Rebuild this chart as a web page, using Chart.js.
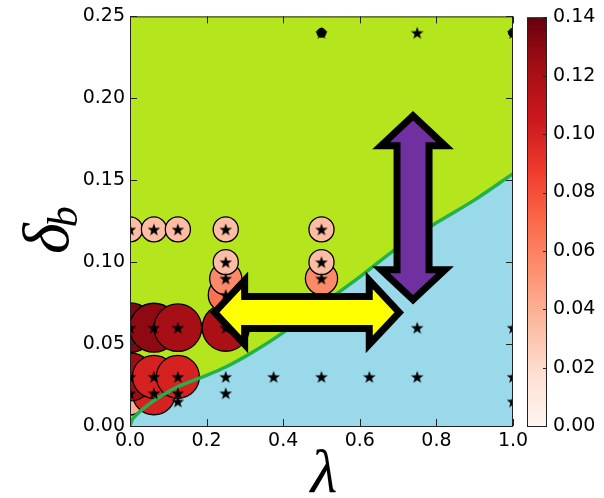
<!DOCTYPE html>
<html>
<head>
<meta charset="utf-8">
<script src="https://cdn.jsdelivr.net/npm/chart.js@4.4.0/dist/chart.umd.min.js"></script>
<style>
  html, body { margin: 0; padding: 0; background: #fff; }
  #wrap { position: relative; width: 604px; height: 498px; }
  canvas { position: absolute; left: 0; top: 0; }
</style>
</head>
<body>
<div id="wrap">
  <canvas id="main" width="604" height="498"></canvas>
  <canvas id="cbar" width="604" height="498"></canvas>
</div>
<script>
// tick labels
const xTicks = [0, 0.2, 0.4, 0.6, 0.8, 1.0];
const yTicks = [0, 0.05, 0.10, 0.15, 0.20, 0.25];
const cbTicks = [0, 0.02, 0.04, 0.06, 0.08, 0.10, 0.12, 0.14];

// bubbles (ordered by y, then x, as they stack)
const bubbleX   = [0,    0.0625, 0,     0.0625, 0.125, 0,     0.0625, 0.125, 0.25, 0.25,  0.25,  0.5,   0.25,  0.5,   0,     0.0625, 0.125, 0.25,  0.5];
const bubbleY   = [0.015, 0.02,  0.03,  0.03,   0.03,  0.06,  0.06,   0.06,  0.06, 0.08,  0.09,  0.09,  0.10,  0.10,  0.12,  0.12,   0.12,  0.12,  0.12];
const bubbleVal = [0.04, 0.10,   0.125, 0.10,   0.10,  0.133, 0.129,  0.122, 0.12, 0.066, 0.056, 0.056, 0.034, 0.034, 0.034, 0.034,  0.034, 0.034, 0.034];

// sampled points (stars)
const starX = [0.5, 0.75, 1.0,
               0, 0.0625, 0.125, 0.25, 0.5,
               0.25, 0.5,
               0.25, 0.5,
               0.25,
               0, 0.0625, 0.125, 0.25, 0.75, 1.0,
               0, 0.0625, 0.125, 0.25, 0.375, 0.5, 0.625, 0.75, 1.0,
               0, 0.0625, 0.125, 0.25,
               0.125, 1.0];
const starY = [0.24, 0.24, 0.24,
               0.12, 0.12, 0.12, 0.12, 0.12,
               0.10, 0.10,
               0.09, 0.09,
               0.08,
               0.06, 0.06, 0.06, 0.06, 0.06, 0.06,
               0.03, 0.03, 0.03, 0.03, 0.03, 0.03, 0.03, 0.03, 0.03,
               0.02, 0.02, 0.02, 0.02,
               0.015, 0.015];

// black dots
const dotX = [0.5, 1.0];
const dotY = [0.24, 0.24];

// boundary between the two regions
const boundX = [0, 0.005, 0.02, 0.04, 0.0625, 0.09, 0.125, 0.19, 0.25, 0.32, 0.4, 0.5, 0.6, 0.7, 0.8, 0.9, 1.0];
const boundY = [0, 0.0035, 0.0075, 0.0115, 0.0155, 0.0195, 0.024, 0.030, 0.036, 0.045, 0.057, 0.074, 0.091, 0.109, 0.124, 0.138, 0.154];

// arrows (tips in data units)
const hArrowX = [0.221, 0.703];
const hArrowY = 0.0693;
const vArrowX = 0.739;
const vArrowY = [0.0771, 0.1894];

const FONT = '"DejaVu Sans", sans-serif';
const redsStops = ['#fff5f0', '#fee0d2', '#fcbba1', '#fc9272', '#fb6a4a', '#ef3b2c', '#cb181d', '#a50f15', '#67000d'];
const VMAX = 0.14;

function hexToRgb(h) {
  return [parseInt(h.slice(1, 3), 16), parseInt(h.slice(3, 5), 16), parseInt(h.slice(5, 7), 16)];
}
function reds(v) {
  let t = Math.max(0, Math.min(1, v / VMAX)) * (redsStops.length - 1);
  let i = Math.min(Math.floor(t), redsStops.length - 2);
  let f = t - i;
  const a = hexToRgb(redsStops[i]), b = hexToRgb(redsStops[i + 1]);
  const c = a.map((x, k) => Math.round(x + (b[k] - x) * f));
  return 'rgb(' + c.join(',') + ')';
}

// filled five point star marker
const starImg = document.createElement('canvas');
starImg.width = 14; starImg.height = 14;
(function () {
  const c = starImg.getContext('2d');
  c.beginPath();
  for (let i = 0; i < 10; i++) {
    const r = i % 2 === 0 ? 6.6 : 2.7;
    const a = -Math.PI / 2 + i * Math.PI / 5;
    const px = 7 + r * Math.cos(a), py = 7.6 + r * Math.sin(a);
    if (i === 0) c.moveTo(px, py); else c.lineTo(px, py);
  }
  c.closePath();
  c.fillStyle = '#000';
  c.fill();
})();

const bubbles = bubbleX.map((x, i) => ({ x: x, y: bubbleY[i], r: 68 * Math.sqrt(bubbleVal[i]) }));
const stars = starX.map((x, i) => ({ x: x, y: starY[i] }));
const dots = dotX.map((x, i) => ({ x: x, y: dotY[i] }));
const boundary = boundX.map((x, i) => ({ x: x, y: boundY[i] }));

const bgPlugin = {
  id: 'bg',
  beforeDatasetsDraw(chart) {
    const a = chart.chartArea, ctx = chart.ctx;
    ctx.save();
    ctx.fillStyle = '#b5e61d';
    ctx.fillRect(a.left, a.top, a.right - a.left, a.bottom - a.top);
    ctx.restore();
  }
};

function drawArrow(ctx, ax, ay, bx, by, fill) {
  const L = Math.hypot(bx - ax, by - ay);
  const ux = (bx - ax) / L, uy = (by - ay) / L;
  const vx = -uy, vy = ux;
  const hl = 30, hw = 32, sw = 16;
  const pts = [[0, 0], [hl, hw], [hl, sw], [L - hl, sw], [L - hl, hw], [L, 0],
               [L - hl, -hw], [L - hl, -sw], [hl, -sw], [hl, -hw]];
  ctx.beginPath();
  pts.forEach((p, i) => {
    const px = ax + ux * p[0] + vx * p[1];
    const py = ay + uy * p[0] + vy * p[1];
    if (i === 0) ctx.moveTo(px, py); else ctx.lineTo(px, py);
  });
  ctx.closePath();
  ctx.fillStyle = fill;
  ctx.fill();
  ctx.lineWidth = 7;
  ctx.lineJoin = 'miter';
  ctx.miterLimit = 10;
  ctx.strokeStyle = '#000';
  ctx.stroke();
}

const framePlugin = {
  id: 'frame',
  afterDatasetsDraw(chart) {
    const a = chart.chartArea, ctx = chart.ctx;
    const xs = chart.scales.x, ys = chart.scales.y;
    ctx.save();
    // arrows
    drawArrow(ctx, xs.getPixelForValue(hArrowX[0]), ys.getPixelForValue(hArrowY),
              xs.getPixelForValue(hArrowX[1]), ys.getPixelForValue(hArrowY), '#ffff00');
    drawArrow(ctx, xs.getPixelForValue(vArrowX), ys.getPixelForValue(vArrowY[1]),
              xs.getPixelForValue(vArrowX), ys.getPixelForValue(vArrowY[0]), '#7030a0');
    // frame
    ctx.strokeStyle = '#222';
    ctx.lineWidth = 1;
    ctx.strokeRect(a.left + 0.5, a.top + 0.5, a.right - a.left - 1, a.bottom - a.top);
    // inward ticks
    ctx.beginPath();
    xTicks.forEach(v => {
      const p = Math.round(xs.getPixelForValue(v)) + 0.5;
      ctx.moveTo(p, a.bottom); ctx.lineTo(p, a.bottom - 7);
      ctx.moveTo(p, a.top); ctx.lineTo(p, a.top + 7);
    });
    yTicks.forEach(v => {
      const p = Math.round(ys.getPixelForValue(v)) + 0.5;
      ctx.moveTo(a.left, p); ctx.lineTo(a.left + 7, p);
      ctx.moveTo(a.right, p); ctx.lineTo(a.right - 7, p);
    });
    ctx.stroke();
    ctx.restore();
  },
  afterDraw(chart) {
    const ctx = chart.ctx;
    ctx.save();
    ctx.fillStyle = '#000';
    // y axis title: delta_b, rotated
    ctx.translate(68, 254);
    ctx.rotate(-Math.PI / 2);
    ctx.textBaseline = 'alphabetic';
    ctx.textAlign = 'left';
    ctx.font = 'italic 66px "Liberation Serif", serif';
    ctx.fillText('δ', 0, 0);
    const w = ctx.measureText('δ').width;
    ctx.font = 'italic 42px "Liberation Serif", serif';
    ctx.fillText('b', w - 4, 9);
    ctx.restore();
    // x axis title: lambda
    ctx.save();
    ctx.fillStyle = '#000';
    ctx.font = 'italic 62px "Liberation Serif", serif';
    ctx.textAlign = 'center';
    ctx.textBaseline = 'alphabetic';
    ctx.fillText('λ', 324, 492);
    ctx.restore();
  }
};

new Chart(document.getElementById('main'), {
  type: 'scatter',
  data: {
    datasets: [
      { type: 'line', data: boundary, fill: 'start', backgroundColor: '#99d9ea', borderWidth: 0,
        pointRadius: 0, cubicInterpolationMode: 'monotone', order: 5 },
      { type: 'bubble', data: bubbles, order: 4, clip: 0,
        backgroundColor: ctx => reds(bubbleVal[ctx.dataIndex]),
        borderColor: '#000', borderWidth: 1.3 },
      { type: 'line', data: boundary, fill: false, borderColor: '#22b14c', borderWidth: 3.5,
        pointRadius: 0, cubicInterpolationMode: 'monotone', order: 3 },
      { type: 'scatter', data: dots, order: 2, clip: 0, pointRadius: 4.5,
        backgroundColor: '#151515', borderColor: '#000', borderWidth: 1 },
      { type: 'scatter', data: stars, order: 1, clip: 0, pointStyle: starImg }
    ]
  },
  options: {
    responsive: false,
    animation: false,
    devicePixelRatio: 1,
    layout: { autoPadding: false, padding: { top: 15, right: 91, left: 0, bottom: 0 } },
    plugins: { legend: { display: false }, tooltip: { enabled: false } },
    scales: {
      x: {
        type: 'linear', min: 0, max: 1,
        afterBuildTicks: s => { s.ticks = xTicks.map(v => ({ value: v })); },
        afterFit: s => { s.height = 72; },
        ticks: { callback: v => v.toFixed(1), color: '#000', font: { family: FONT, size: 19 }, padding: 4, maxRotation: 0 },
        grid: { display: true, drawOnChartArea: false, drawTicks: false },
        border: { display: false }
      },
      y: {
        type: 'linear', min: 0, max: 0.25,
        afterBuildTicks: s => { s.ticks = yTicks.map(v => ({ value: v })); },
        afterFit: s => { s.width = 130; },
        ticks: { callback: v => v.toFixed(2), color: '#000', font: { family: FONT, size: 19 }, padding: 5 },
        grid: { display: true, drawOnChartArea: false, drawTicks: false },
        border: { display: false }
      }
    }
  },
  plugins: [bgPlugin, framePlugin]
});

// colour bar
const cbarPlugin = {
  id: 'cbarFill',
  beforeDraw(chart) {
    const a = chart.chartArea, ctx = chart.ctx;
    const g = ctx.createLinearGradient(0, a.bottom, 0, a.top);
    redsStops.forEach((c, i) => g.addColorStop(i / (redsStops.length - 1), c));
    ctx.save();
    ctx.fillStyle = g;
    ctx.fillRect(a.left, a.top, a.right - a.left, a.bottom - a.top);
    ctx.restore();
  },
  afterDraw(chart) {
    const a = chart.chartArea, ctx = chart.ctx, ys = chart.scales.y;
    ctx.save();
    ctx.strokeStyle = '#222';
    ctx.lineWidth = 1;
    ctx.strokeRect(a.left + 0.5, a.top + 0.5, a.right - a.left - 1, a.bottom - a.top);
    ctx.beginPath();
    cbTicks.forEach(v => {
      const p = Math.round(ys.getPixelForValue(v)) + 0.5;
      ctx.moveTo(a.right, p); ctx.lineTo(a.right - 4, p);
    });
    ctx.stroke();
    ctx.restore();
  }
};

new Chart(document.getElementById('cbar'), {
  type: 'scatter',
  data: { datasets: [] },
  options: {
    responsive: false,
    animation: false,
    devicePixelRatio: 1,
    layout: { autoPadding: false, padding: { top: 15, left: 527, right: 0, bottom: 72 } },
    plugins: { legend: { display: false }, tooltip: { enabled: false } },
    scales: {
      x: { display: false, min: 0, max: 1 },
      y: {
        type: 'linear', position: 'right', min: 0, max: VMAX,
        afterBuildTicks: s => { s.ticks = cbTicks.map(v => ({ value: v })); },
        afterFit: s => { s.width = 57; },
        ticks: { callback: v => v.toFixed(2), color: '#000', font: { family: FONT, size: 19 }, padding: 6 },
        grid: { display: true, drawOnChartArea: false, drawTicks: false },
        border: { display: false }
      }
    }
  },
  plugins: [cbarPlugin]
});
</script>
</body>
</html>
